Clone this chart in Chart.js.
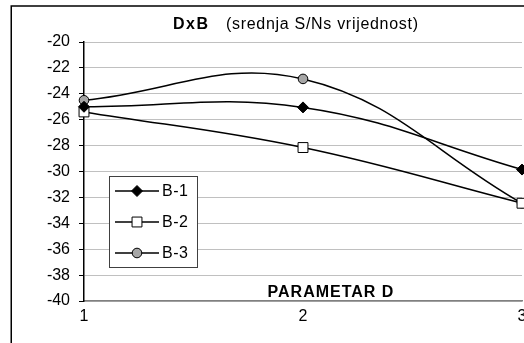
<!DOCTYPE html>
<html>
<head>
<meta charset="utf-8">
<script src="https://cdn.jsdelivr.net/npm/chart.js@4.4.0/dist/chart.umd.min.js"></script>
<style>
  html,body{margin:0;padding:0;background:#fff;overflow:hidden;}
  #wrap{position:relative;width:560px;height:343px;}
</style>
</head>
<body>
<div id="wrap"><canvas id="chart1" width="560" height="343"></canvas></div>
<script>
// values
const paramD=[1,2,3];
const b1=[-25.0,-25.05,-29.85];
const b2=[-25.4,-28.15,-32.45];
const b3=[-24.5,-22.85,-32.45];
const seriesNames=['B-1','B-2','B-3'];
const yMin=-40, yMax=-20, yStep=2;

const FONT='"Liberation Sans", Arial, sans-serif';

function pts(vals){return vals.map((v,i)=>({x:paramD[i],y:v}));}

const frameAndText={
  id:'frameAndText',
  beforeDraw(chart){
    const c=chart.ctx;
    c.save();
    c.fillStyle='#fff';
    c.fillRect(0,0,chart.width,chart.height);
    c.strokeStyle='#000';
    c.lineWidth=1.5;
    c.beginPath();
    c.moveTo(11.25,chart.height);
    c.lineTo(11.25,6);
    c.lineTo(chart.width,6);
    c.stroke();
    c.restore();
  },
  afterDraw(chart){
    const c=chart.ctx;
    c.save();
    c.fillStyle='#000';
    c.textBaseline='alphabetic';
    c.textAlign='left';
    c.letterSpacing='1.5px';
    c.font='bold 16px '+FONT;
    c.fillText('DxB',173,28.5);
    c.letterSpacing='0.7px';
    c.font='16px '+FONT;
    c.fillText('(srednja S/Ns vrijednost)',226,28.5);
    // axis title sits inside plot area
    c.letterSpacing='1px';
    c.font='bold 16px '+FONT;
    c.textAlign='center';
    c.fillText('PARAMETAR D',331,297);
    // legend box
    c.letterSpacing='0.5px';
    c.fillStyle='#fff';
    c.fillRect(109,176,89,92);
    c.strokeStyle='#404040';
    c.lineWidth=1;
    c.strokeRect(109.5,176.5,88,91);
    const rows=[191,222,253];
    chart.data.datasets.forEach((ds,i)=>{
      const y=rows[i];
      c.strokeStyle='#000';
      c.lineWidth=1.5;
      c.beginPath();c.moveTo(115,y);c.lineTo(159,y);c.stroke();
      c.fillStyle=ds.pointBackgroundColor;
      c.strokeStyle='#000';
      c.lineWidth=1;
      Chart.helpers.drawPoint(c,{pointStyle:ds.pointStyle,radius:ds.pointRadius,rotation:0,borderWidth:1},137,y);
      c.fillStyle='#000';
      c.font='16px '+FONT;
      c.textAlign='left';
      c.textBaseline='middle';
      c.fillText(ds.label,162,y+1);
    });
    c.restore();
  }
};

const ctx1=document.getElementById('chart1').getContext('2d');
new Chart(ctx1,{
  type:'line',
  data:{datasets:[
    {label:seriesNames[0],data:pts(b1),borderColor:'#000',borderWidth:1.5,tension:0.4,
     pointStyle:'rectRot',pointRadius:5.5,pointBackgroundColor:'#000',pointBorderColor:'#000',pointBorderWidth:1,clip:false},
    {label:seriesNames[1],data:pts(b2),borderColor:'#000',borderWidth:1.5,tension:0.4,
     pointStyle:'rect',pointRadius:7,pointBackgroundColor:'#fff',pointBorderColor:'#000',pointBorderWidth:1,clip:false},
    {label:seriesNames[2],data:pts(b3),borderColor:'#000',borderWidth:1.5,tension:0.4,
     pointStyle:'circle',pointRadius:4.8,pointBackgroundColor:'#a6a6a6',pointBorderColor:'#000',pointBorderWidth:1,clip:false}
  ]},
  options:{
    responsive:false,animation:false,
    layout:{padding:{left:0,top:42,right:38,bottom:0}},
    plugins:{legend:{display:false},title:{display:false},tooltip:{enabled:false}},
    scales:{
      x:{type:'linear',min:1,max:3,
         ticks:{stepSize:1,color:'#000',font:{family:FONT,size:16},padding:6},
         grid:{display:false,drawTicks:false},
         border:{display:true,color:'#808080',width:1.5},
         afterFit(s){s.height=42;}},
      y:{min:yMin,max:yMax,
         ticks:{stepSize:yStep,color:'#000',font:{family:FONT,size:16},padding:9},
         grid:{color:'#c0c0c0',lineWidth:1,tickLength:5,tickColor:'#000'},
         border:{display:true,color:'#000',width:1.5},
         afterFit(s){s.width=84;}}
    }
  },
  plugins:[frameAndText]
});
</script>
</body>
</html>
